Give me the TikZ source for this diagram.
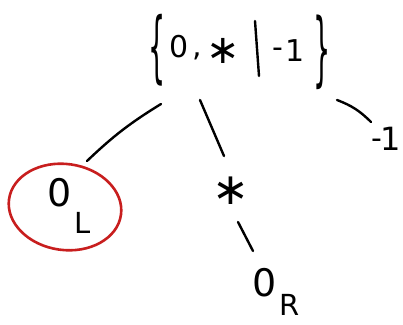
\documentclass[tikz,border=0pt]{standalone}
\usepackage{fontspec}
\setmainfont{DejaVu Sans}
\usetikzlibrary{shapes.geometric}
\definecolor{penred}{RGB}{200,30,30}
\begin{document}
\begin{tikzpicture}[x=1pt,y=-1pt,
  txt/.style={inner sep=0pt, font=\fontsize{30}{30}\selectfont},
  brace/.style={inner sep=0pt, font=\fontsize{30}{30}\selectfont},
  big/.style={inner sep=0pt, font=\fontsize{38}{38}\selectfont},
  sub/.style={inner sep=0pt, font=\fontsize{29}{29}\selectfont},
  star/.style={inner sep=0pt, font=\fontsize{40}{40}\selectfont},
  edge/.style={line width=2.4pt, line cap=round},
  ring/.style={draw=penred, line width=2.6pt, ellipse, inner sep=0pt}
  ]
\useasboundingbox[fill=white] (0,0) rectangle (403,324);
% root set
\node[brace] (lbrace) at (157,50) {\scalebox{0.9}[2.6]{\{}};
\node[txt] (rzero) at (179,47) {0};
\node[txt] (rcomma) at (197,56) {,};
\node[star] (rstar) at (223,51) {∗};
\coordinate (bartop) at (255,21);
\coordinate (barbot) at (259,76);
\draw[edge] (bartop) -- (barbot);
\node[txt] (rminus) at (278,53) {-};
\node[txt] (rone) at (295,51) {1};
\node[brace] (rbrace) at (322,52) {\scalebox{0.9}[2.7]{\}}};
% left child
\node[ring, minimum width=113, minimum height=86, rotate=-8] (Lring) at (65,207) {};
\node[big] (Lzero) at (60,193) {0};
\node[sub] (Lsub) at (83,223) {L};
% middle child
\node[star, font=\fontsize{44}{44}\selectfont] (mstar) at (231,191) {∗};
\node[big] (Rzero) at (265,283) {0};
\node[sub] (Rsub) at (290,305) {R};
% right child
\node[txt] (rightminus) at (377,144) {-};
\node[txt, font=\fontsize{32}{32}\selectfont] (rightone) at (391,139) {1};
% connectors
\coordinate (eL1) at (161,104);
\coordinate (eL2) at (87,161);
\coordinate (eM1) at (200,100);
\coordinate (eM2) at (224,156);
\coordinate (eR1) at (337,100);
\coordinate (eR2) at (371,122);
\coordinate (eS1) at (238,222);
\coordinate (eS2) at (253,251);
\draw[edge] (eL1) to[bend right=6] (eL2);
\draw[edge] (eM1) -- (eM2);
\draw[edge] (eR1) to[bend left=12] (eR2);
\draw[edge] (eS1) -- (eS2);
\end{tikzpicture}
\end{document}
